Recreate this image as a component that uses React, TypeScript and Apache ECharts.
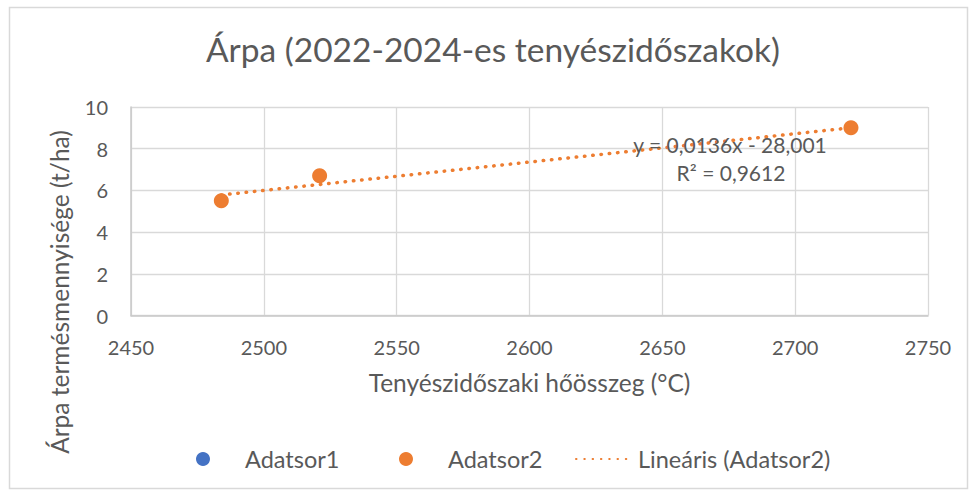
import React, { useEffect, useRef } from "react";
import * as echarts from "echarts";

const TITLE = "Árpa (2022-2024-es tenyészidőszakok)";
const X_NAME = "Tenyészidőszaki hőösszeg (°C)";
const Y_NAME = "Árpa termésmennyisége (t/ha)";
const SERIES_NAMES = ["Adatsor1", "Adatsor2", "Lineáris (Adatsor2)"];
const SERIES1: [number, number][] = [];
const SERIES2_X = [2484, 2521, 2721];
const SERIES2_Y = [5.5, 6.7, 9.0];
const TREND_SLOPE = 0.0136;
const TREND_INTERCEPT = -28.001;
const EQUATION = "y = 0,0136x - 28,001";
const R2_TEXT = "R² = 0,9612";

const FONT = "Lato, 'Open Sans', sans-serif";
const TEXT = "#595959";
const ORANGE = "#ED7D31";
const BLUE = "#4472C4";

export default function App() {
  const ref = useRef<HTMLDivElement>(null);
  useEffect(() => {
    document.body.style.margin = "0";
    const chart = echarts.init(ref.current!, null, { renderer: "svg" });
    const s2 = SERIES2_X.map((x, i) => [x, SERIES2_Y[i]]);
    const xMin = Math.min(...SERIES2_X);
    const xMax = Math.max(...SERIES2_X);
    const trend = [xMin, xMax].map((x) => [x, TREND_SLOPE * x + TREND_INTERCEPT]);
    const legendText = { fontSize: 23.5, color: TEXT, fontFamily: FONT };
    chart.setOption({
      animation: false,
      backgroundColor: "#fff",
      textStyle: { fontFamily: FONT },
      title: {
        text: TITLE,
        left: 201,
        top: 27,
        textStyle: { fontFamily: FONT, fontSize: 33.5, fontWeight: "normal", color: TEXT },
      },
      grid: { left: 131, right: 43, top: 107, bottom: 175.5, containLabel: false },
      xAxis: {
        type: "value",
        min: 2450,
        max: 2750,
        interval: 50,
        name: X_NAME,
        nameLocation: "middle",
        nameGap: 54,
        nameTextStyle: { fontSize: 24.5, color: TEXT, fontFamily: FONT },
        axisLine: { show: true, lineStyle: { color: "#c9c9c9", width: 1.5 } },
        axisTick: { show: false },
        axisLabel: {
          margin: 21,
          fontSize: 20,
          color: TEXT,
          fontFamily: FONT,
          formatter: (v: number) => String(v),
        },
        splitLine: { show: true, lineStyle: { color: "#d9d9d9", width: 1.3 } },
      },
      yAxis: {
        type: "value",
        min: 0,
        max: 10,
        interval: 2,
        axisLine: { show: true, lineStyle: { color: "#c9c9c9", width: 1.5 } },
        axisTick: { show: false },
        axisLabel: { margin: 23, fontSize: 20, color: TEXT, fontFamily: FONT },
        splitLine: { show: true, lineStyle: { color: "#d9d9d9", width: 1.3 } },
      },
      legend: [
        {
          data: [SERIES_NAMES[0]],
          left: 191,
          top: 442,
          itemWidth: 14,
          itemHeight: 14,
          icon: "circle",
          textStyle: { ...legendText, padding: [0, 0, 0, 30] },
        },
        {
          data: [SERIES_NAMES[1]],
          left: 394,
          top: 442,
          itemWidth: 14,
          itemHeight: 14,
          icon: "circle",
          textStyle: { ...legendText, padding: [0, 0, 0, 30] },
        },
        {
          data: [SERIES_NAMES[2]],
          left: 570,
          top: 442,
          itemWidth: 57,
          itemHeight: 14,
          itemStyle: { opacity: 0 },
          textStyle: legendText,
        },
      ],
      series: [
        {
          name: SERIES_NAMES[0],
          type: "scatter",
          data: SERIES1,
          symbolSize: 15,
          itemStyle: { color: BLUE, opacity: 1 },
        },
        {
          name: SERIES_NAMES[1],
          type: "scatter",
          data: s2,
          symbolSize: 15,
          itemStyle: { color: ORANGE, opacity: 1 },
          z: 2,
        },
        {
          name: SERIES_NAMES[2],
          type: "line",
          data: trend,
          symbol: "none",
          showSymbol: false,
          lineStyle: { color: ORANGE, width: 3.5, type: [0.5, 7.8], cap: "round" },
          itemStyle: { color: ORANGE },
          z: 3,
        },
      ],
      graphic: [
        {
          type: "rect",
          shape: { x: 9.5, y: 7.5, width: 958, height: 481 },
          style: { fill: "none", stroke: "#d9d9d9", lineWidth: 1.5 },
          silent: true,
        },
        {
          type: "text",
          x: 59,
          y: 292,
          rotation: Math.PI / 2,
          style: {
            text: Y_NAME,
            fontSize: 24.5,
            fontFamily: FONT,
            fill: TEXT,
            align: "center",
            verticalAlign: "middle",
          },
        },
        {
          type: "text",
          x: 730,
          y: 144,
          z: 10,
          style: {
            text: EQUATION,
            fontSize: 21,
            fontFamily: FONT,
            fill: TEXT,
            align: "center",
            verticalAlign: "middle",
          },
        },
        {
          type: "text",
          x: 731,
          y: 172,
          z: 10,
          style: {
            text: R2_TEXT,
            fontSize: 21,
            fontFamily: FONT,
            fill: TEXT,
            align: "center",
            verticalAlign: "middle",
          },
        },
      ],
    });
    return () => chart.dispose();
  }, []);
  return (
    <div
      ref={ref}
      style={{ position: "absolute", left: 0, top: 0, width: 971, height: 491 }}
    />
  );
}
